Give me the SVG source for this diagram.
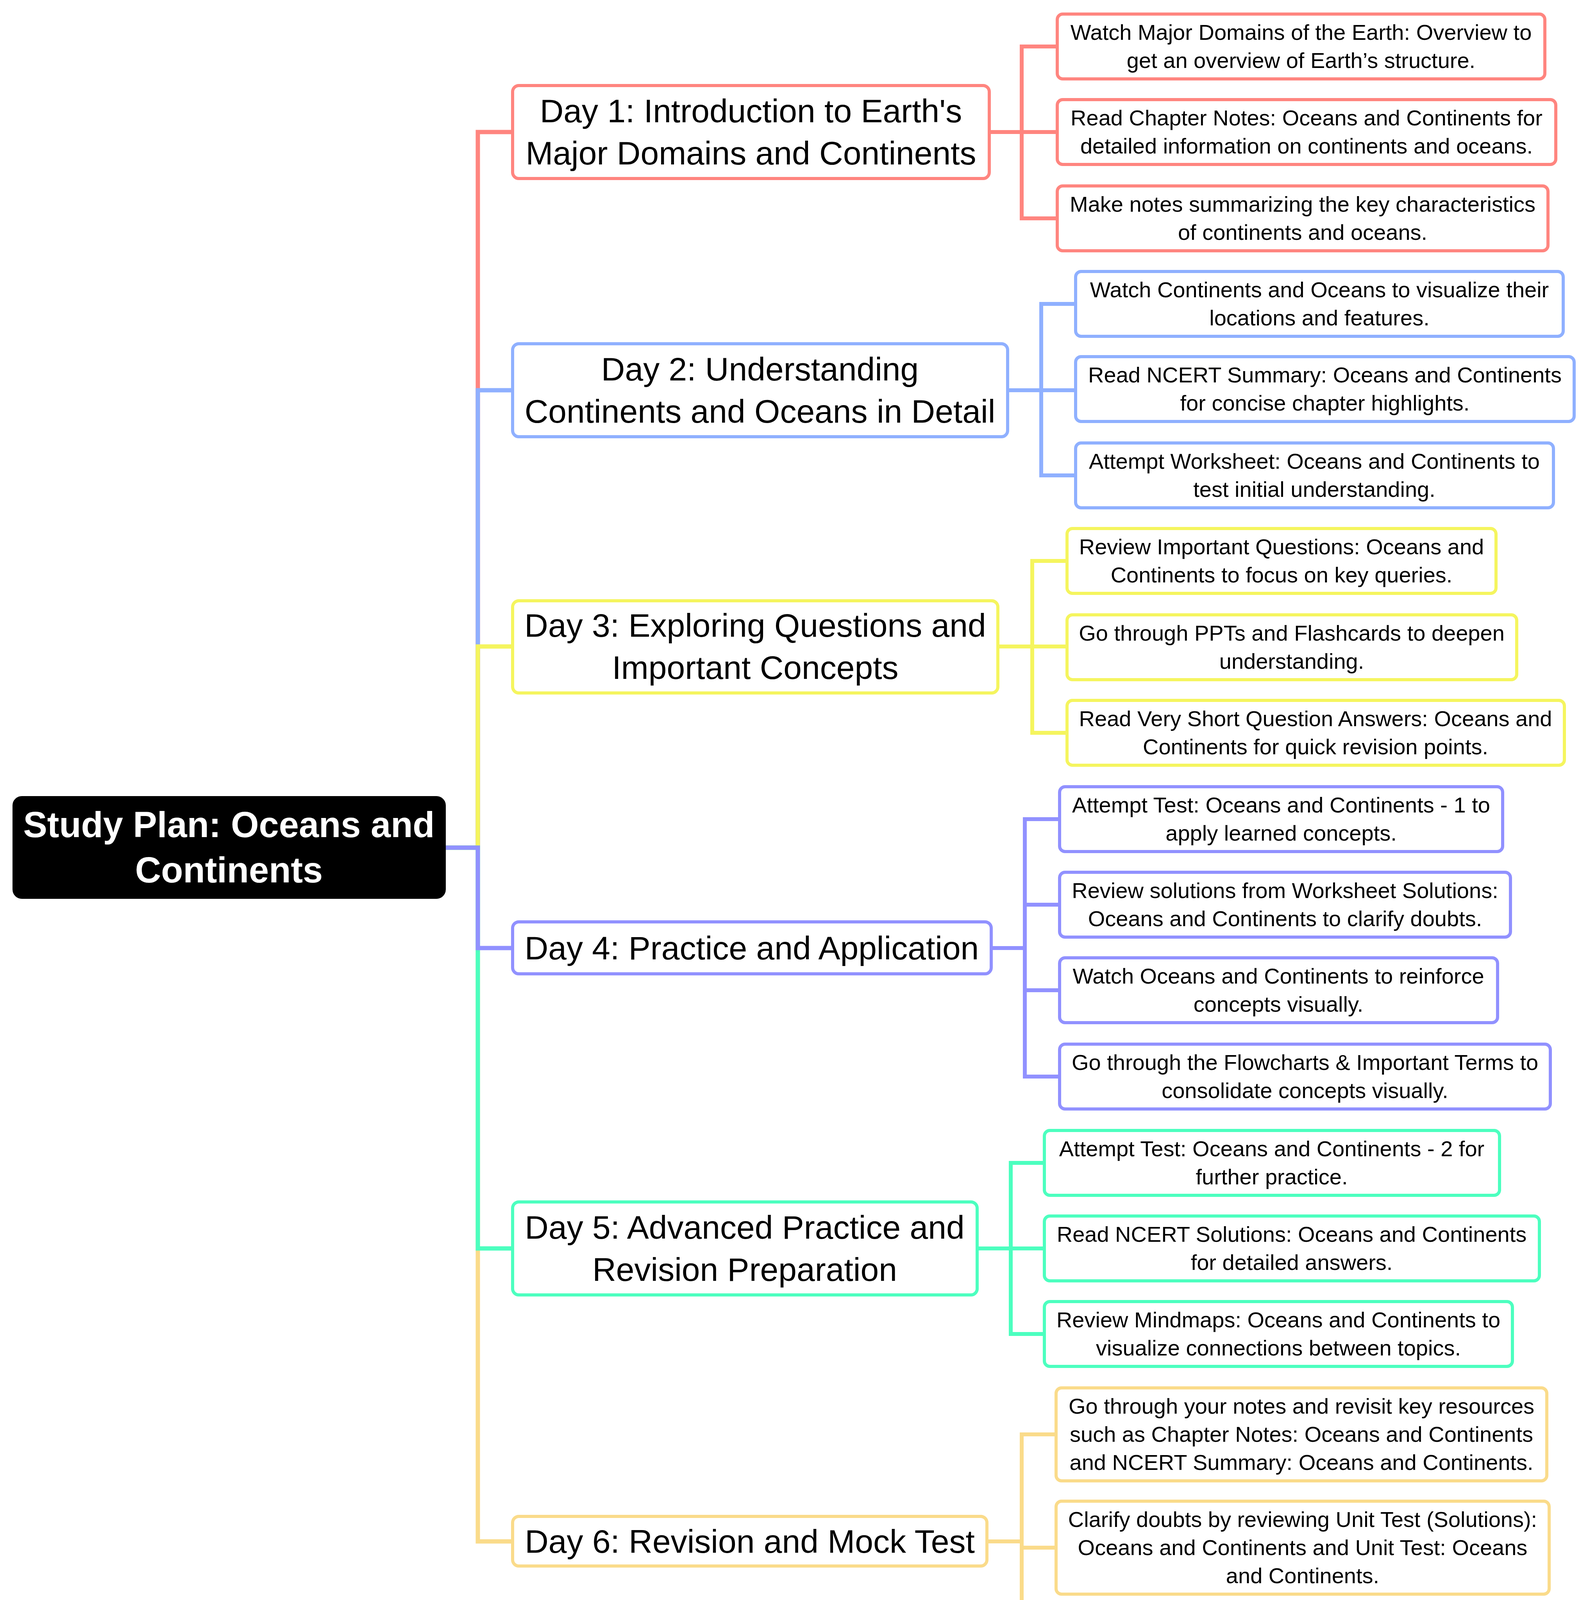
<svg xmlns="http://www.w3.org/2000/svg" width="4067" height="4341" viewBox="0 0 4067 4341">
<style>
text{font-family:"Liberation Sans",Arial,sans-serif;text-anchor:middle;fill:#000}
.day{font-size:84px}
.leaf{font-size:56px}
.root{font-size:92px;font-weight:bold;fill:#fff}
rect{fill:#fff;stroke-width:8}
.c{fill:none;stroke-width:11}
.lc{fill:none;stroke-width:10}
.r{stroke:#FF857F}.b{stroke:#8FB0FF}.y{stroke:#F5F55E}.p{stroke:#9191FF}.g{stroke:#4CFFBF}.o{stroke:#FADB8A}
</style>
<rect width="4067" height="4341" fill="#fff" stroke="none"/>
<g id="connectors">
<path class="c r" d="M1137,2170H1223V338H1312"/>
<path class="c b" d="M1137,2170H1223V999H1312"/>
<path class="c y" d="M1137,2170H1223V1655H1312"/>
<path class="c o" d="M1137,2170H1223V3946H1312"/>
<path class="c g" d="M1137,2170H1223V3196H1312"/>
<path class="c p" d="M1137,2170H1223V2427H1312"/>
<path class="lc r" d="M2532,338H2615V119H2706M2615,338H2706M2615,338V559H2706"/>
<path class="lc b" d="M2579,999H2665V778H2753M2665,999H2753M2665,999V1217H2753"/>
<path class="lc y" d="M2554,1655H2642V1436H2731M2642,1655H2731M2642,1655V1876H2731"/>
<path class="lc p" d="M2537,2427H2623V2097H2712M2623,2316H2712M2623,2427V2756H2712M2623,2535H2712"/>
<path class="lc g" d="M2501,3196H2587V2977H2673M2587,3196H2673M2587,3196V3415H2673"/>
<path class="lc o" d="M2526,3946H2615V3672H2703M2615,3962H2703M2615,3946V4222H2703"/>
</g>
<g id="root"><rect x="36" y="2042" width="1101" height="255" rx="20" style="fill:#000;stroke:#000"/>
<text class="root" x="586" y="2143">Study Plan: Oceans and</text><text class="root" x="586" y="2259">Continents</text></g>
<g id="day1"><rect class="r" x="1312" y="219" width="1220" height="238" rx="16"/><text class="day" x="1922" y="313">Day 1: Introduction to Earth's</text><text class="day" x="1922" y="421">Major Domains and Continents</text></g>
<g id="day2"><rect class="b" x="1312" y="880" width="1267" height="238" rx="16"/><text class="day" x="1945" y="974">Day 2: Understanding</text><text class="day" x="1945" y="1082">Continents and Oceans in Detail</text></g>
<g id="day3"><rect class="y" x="1312" y="1538" width="1242" height="236" rx="16"/><text class="day" x="1933" y="1630">Day 3: Exploring Questions and</text><text class="day" x="1933" y="1738">Important Concepts</text></g>
<g id="day4"><rect class="p" x="1312" y="2360" width="1225" height="133" rx="16"/><text class="day" x="1924" y="2456">Day 4: Practice and Application</text></g>
<g id="day5"><rect class="g" x="1312" y="3077" width="1189" height="238" rx="16"/><text class="day" x="1906" y="3171">Day 5: Advanced Practice and</text><text class="day" x="1906" y="3279">Revision Preparation</text></g>
<g id="day6"><rect class="o" x="1312" y="3882" width="1214" height="127" rx="16"/><text class="day" x="1919" y="3975">Day 6: Revision and Mock Test</text></g>

<g id="l11"><rect class="r" x="2706" y="36" width="1248" height="166" rx="14"/><text class="leaf" x="3330" y="102">Watch Major Domains of the Earth: Overview to</text><text class="leaf" x="3330" y="174">get an overview of Earth’s structure.</text></g>
<g id="l12"><rect class="r" x="2706" y="255" width="1276" height="166" rx="14"/><text class="leaf" x="3344" y="321">Read Chapter Notes: Oceans and Continents for</text><text class="leaf" x="3344" y="393">detailed information on continents and oceans.</text></g>
<g id="l13"><rect class="r" x="2706" y="476" width="1256" height="166" rx="14"/><text class="leaf" x="3334" y="542">Make notes summarizing the key characteristics</text><text class="leaf" x="3334" y="614">of continents and oceans.</text></g>

<g id="l21"><rect class="b" x="2753" y="695" width="1248" height="166" rx="14"/><text class="leaf" x="3377" y="761">Watch Continents and Oceans to visualize their</text><text class="leaf" x="3377" y="833">locations and features.</text></g>
<g id="l22"><rect class="b" x="2753" y="913" width="1276" height="166" rx="14"/><text class="leaf" x="3391" y="979">Read NCERT Summary: Oceans and Continents</text><text class="leaf" x="3391" y="1051">for concise chapter highlights.</text></g>
<g id="l23"><rect class="b" x="2753" y="1134" width="1223" height="166" rx="14"/><text class="leaf" x="3364" y="1200">Attempt Worksheet: Oceans and Continents to</text><text class="leaf" x="3364" y="1272">test initial understanding.</text></g>

<g id="l31"><rect class="y" x="2731" y="1353" width="1098" height="166" rx="14"/><text class="leaf" x="3280" y="1419">Review Important Questions: Oceans and</text><text class="leaf" x="3280" y="1491">Continents to focus on key queries.</text></g>
<g id="l32"><rect class="y" x="2731" y="1574" width="1151" height="166" rx="14"/><text class="leaf" x="3306" y="1640">Go through PPTs and Flashcards to deepen</text><text class="leaf" x="3306" y="1712">understanding.</text></g>
<g id="l33"><rect class="y" x="2731" y="1793" width="1273" height="166" rx="14"/><text class="leaf" x="3367" y="1859">Read Very Short Question Answers: Oceans and</text><text class="leaf" x="3367" y="1931">Continents for quick revision points.</text></g>

<g id="l41"><rect class="p" x="2712" y="2014" width="1134" height="166" rx="14"/><text class="leaf" x="3279" y="2080">Attempt Test: Oceans and Continents - 1 to</text><text class="leaf" x="3279" y="2152">apply learned concepts.</text></g>
<g id="l42"><rect class="p" x="2712" y="2233" width="1154" height="166" rx="14"/><text class="leaf" x="3289" y="2299">Review solutions from Worksheet Solutions:</text><text class="leaf" x="3289" y="2371">Oceans and Continents to clarify doubts.</text></g>
<g id="l43"><rect class="p" x="2712" y="2452" width="1121" height="166" rx="14"/><text class="leaf" x="3272" y="2518">Watch Oceans and Continents to reinforce</text><text class="leaf" x="3272" y="2590">concepts visually.</text></g>
<g id="l44"><rect class="p" x="2712" y="2673" width="1256" height="166" rx="14"/><text class="leaf" x="3340" y="2739">Go through the Flowcharts &amp; Important Terms to</text><text class="leaf" x="3340" y="2811">consolidate concepts visually.</text></g>

<g id="l51"><rect class="g" x="2673" y="2894" width="1165" height="166" rx="14"/><text class="leaf" x="3255" y="2960">Attempt Test: Oceans and Continents - 2 for</text><text class="leaf" x="3255" y="3032">further practice.</text></g>
<g id="l52"><rect class="g" x="2673" y="3113" width="1267" height="166" rx="14"/><text class="leaf" x="3306" y="3179">Read NCERT Solutions: Oceans and Continents</text><text class="leaf" x="3306" y="3251">for detailed answers.</text></g>
<g id="l53"><rect class="g" x="2673" y="3332" width="1198" height="166" rx="14"/><text class="leaf" x="3272" y="3398">Review Mindmaps: Oceans and Continents to</text><text class="leaf" x="3272" y="3470">visualize connections between topics.</text></g>

<g id="l61"><rect class="o" x="2703" y="3553" width="1256" height="238" rx="14"/><text class="leaf" x="3331" y="3619">Go through your notes and revisit key resources</text><text class="leaf" x="3331" y="3691">such as Chapter Notes: Oceans and Continents</text><text class="leaf" x="3331" y="3763">and NCERT Summary: Oceans and Continents.</text></g>
<g id="l62"><rect class="o" x="2703" y="3843" width="1262" height="238" rx="14"/><text class="leaf" x="3334" y="3909">Clarify doubts by reviewing Unit Test (Solutions):</text><text class="leaf" x="3334" y="3981">Oceans and Continents and Unit Test: Oceans</text><text class="leaf" x="3334" y="4053">and Continents.</text></g>
<g id="l63"><rect class="o" x="2703" y="4139" width="1245" height="166" rx="14"/><text class="leaf" x="3325" y="4205">Take the Unit Test: Oceans and Continents as a</text><text class="leaf" x="3325" y="4277">mock test to assess your understanding.</text></g>
</svg>
